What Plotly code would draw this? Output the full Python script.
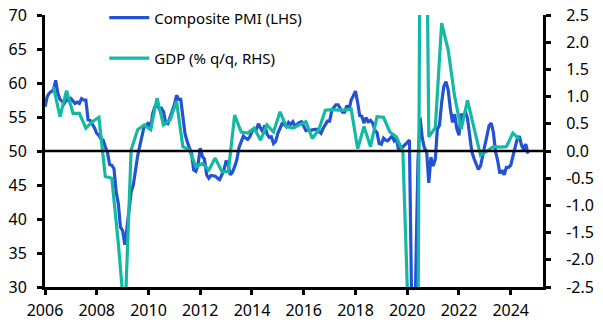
import pandas as pd
import plotly.graph_objects as go

# ---- data ----
pmi_start = "2006-01-01"
pmi_values = [
    56.5, 58.0, 58.5, 58.8, 59.0, 60.4, 58.5, 57.6, 57.3, 57.0, 57.6, 57.4,  # 2006
    57.7, 57.4, 57.0, 57.2, 57.0, 57.7, 57.5, 57.5, 54.6, 54.5, 54.0, 53.4,  # 2007
    52.6, 52.3, 51.8, 51.6, 50.6, 49.8, 48.0, 47.9, 47.4, 44.0, 42.3, 38.8,  # 2008
    38.3, 36.2, 38.5, 41.3, 44.0, 45.0, 47.2, 49.3, 50.8, 52.0, 53.6, 53.8,  # 2009
    54.2, 53.3, 55.5, 56.5, 57.0, 56.2, 56.3, 55.8, 54.1, 54.0, 55.0, 55.8,  # 2010
    56.8, 58.2, 57.6, 57.6, 55.2, 52.5, 51.4, 50.6, 49.6, 47.2, 47.0, 48.0,  # 2011
    50.4, 49.2, 48.8, 46.5, 46.0, 46.4, 46.4, 46.3, 46.0, 45.8, 46.5, 47.2,  # 2012
    48.6, 47.9, 46.5, 46.9, 47.7, 48.7, 50.5, 51.5, 52.2, 51.9, 51.7, 52.1,  # 2013
    52.9, 53.3, 53.1, 54.0, 53.5, 52.8, 53.8, 52.5, 52.0, 52.1, 51.1, 51.4,  # 2014
    52.6, 53.3, 54.0, 53.9, 53.6, 54.2, 53.9, 54.3, 53.6, 53.9, 54.2, 54.3,  # 2015
    53.6, 53.0, 53.1, 53.0, 53.1, 53.1, 53.2, 52.9, 52.6, 53.3, 53.9, 54.4,  # 2016
    54.4, 56.0, 56.4, 56.8, 56.8, 56.3, 55.7, 55.7, 56.7, 56.0, 57.5, 58.1,  # 2017
    58.8, 57.1, 55.2, 55.1, 54.1, 54.9, 54.3, 54.5, 54.1, 53.1, 52.7, 51.1,  # 2018
    51.0, 51.9, 51.6, 51.5, 51.8, 52.2, 51.5, 51.9, 50.1, 50.6, 50.6, 50.9,  # 2019
    51.3, 51.6, 29.7, 13.6, 31.9, 48.5, 54.9, 51.9, 50.4, 50.0, 45.3, 49.1,  # 2020
    47.8, 48.8, 53.2, 53.8, 57.1, 59.5, 60.2, 59.0, 56.2, 54.2, 55.4, 53.3,  # 2021
    52.3, 55.5, 54.9, 55.8, 54.8, 52.0, 49.9, 48.9, 48.1, 47.3, 47.8, 49.3,  # 2022
    50.3, 52.0, 53.7, 54.1, 52.8, 49.9, 48.6, 46.7, 47.2, 46.5, 47.6, 47.6,  # 2023
    47.9, 49.2, 50.3, 51.7, 52.2, 50.9, 50.2, 51.0, 49.6,                    # 2024
]

gdp_start = "2006-05-01"  # Q2 2006, plotted mid-quarter
gdp_values = [
    1.18, 0.63, 1.11,          # 2006 Q2-Q4
    0.69, 0.69, 0.42, 0.54,    # 2007
    0.62, -0.47, -0.50, -1.70, # 2008
    -3.10, 0.02, 0.39, 0.48,   # 2009
    0.39, 0.97, 0.48, 0.57,    # 2010
    0.91, 0.08, 0.02, -0.29,   # 2011
    -0.23, -0.35, -0.13, -0.38,# 2012
    -0.38, 0.66, 0.35, 0.33,   # 2013
    0.42, 0.20, 0.48, 0.35,    # 2014
    0.72, 0.45, 0.42, 0.48,    # 2015
    0.54, 0.23, 0.39, 0.75,    # 2016
    0.76, 0.75, 0.75, 0.77,    # 2017
    0.04, 0.45, 0.08, 0.63,    # 2018
    0.62, 0.35, 0.26, -0.01,   # 2019
    -3.70, -11.50, 12.40, 0.26,# 2020
    0.43, 2.35, 1.86, 1.00,    # 2021
    0.40, 0.93, 0.40, -0.08,   # 2022
    0.00, 0.08, 0.07, 0.08,    # 2023
    0.33, 0.22,                # 2024
]

series_names = ["Composite PMI (LHS)", "GDP (% q/q, RHS)"]
x_tick_years = list(range(2006, 2025, 2))
left_ticks = [30, 35, 40, 45, 50, 55, 60, 65, 70]
right_ticks = [-2.5, -2.0, -1.5, -1.0, -0.5, 0.0, 0.5, 1.0, 1.5, 2.0, 2.5]
right_tick_labels = ["-2.5", "-2.0", "-1.5", "-1.0", "-0.5", "0.0", "0.5", "1.0", "1.5", "2.0", "2.5"]

pmi_dates = pd.date_range(pmi_start, periods=len(pmi_values), freq="MS")
gdp_dates = pd.date_range(gdp_start, periods=len(gdp_values), freq="3MS")

BLUE = "#2353D3"
TEAL = "#14B9A3"
FONT = "Noto Sans"

fig = go.Figure()
fig.add_trace(go.Scatter(
    x=pmi_dates, y=pmi_values, name=series_names[0], mode="lines",
    line=dict(color=BLUE, width=3.2), yaxis="y", legendgroup="a",
))
fig.add_trace(go.Scatter(
    x=gdp_dates, y=gdp_values, name=series_names[1], mode="lines",
    line=dict(color=TEAL, width=3.2), yaxis="y2", legendgroup="b",
))

fig.add_shape(type="line", xref="paper", yref="y", x0=0, x1=1, y0=50, y1=50,
              line=dict(color="black", width=2.5), layer="above")

axis_common = dict(
    showline=True, linecolor="black", linewidth=3,
    ticks="outside", ticklen=5, tickwidth=2.5, tickcolor="black",
    showgrid=False, zeroline=False, tickfont=dict(size=16, family=FONT),
)

fig.update_layout(
    width=603, height=331,
    margin=dict(l=45, r=60, t=15, b=44, autoexpand=False),
    paper_bgcolor="white", plot_bgcolor="white",
    font=dict(family=FONT, size=15, color="black"),
    showlegend=True,
    legend=dict(x=0.119, y=1.05, xanchor="left", yanchor="top",
                bgcolor="rgba(0,0,0,0)", font=dict(size=15, family=FONT),
                tracegroupgap=18, itemwidth=40),
    xaxis=dict(
        type="date", range=["2006-01-01", "2025-04-01"],
        tickvals=[f"{y}-01-01" for y in x_tick_years],
        ticktext=[str(y) for y in x_tick_years],
        ticklabelstandoff=2,
        **axis_common,
    ),
    yaxis=dict(
        range=[30, 70], tickvals=left_ticks, ticklabelstandoff=7,
        **axis_common,
    ),
    yaxis2=dict(
        range=[-2.5, 2.5], overlaying="y", side="right",
        tickvals=right_ticks, ticktext=right_tick_labels, ticklabelstandoff=12,
        **axis_common,
    ),
)

fig.write_html("out.html")
